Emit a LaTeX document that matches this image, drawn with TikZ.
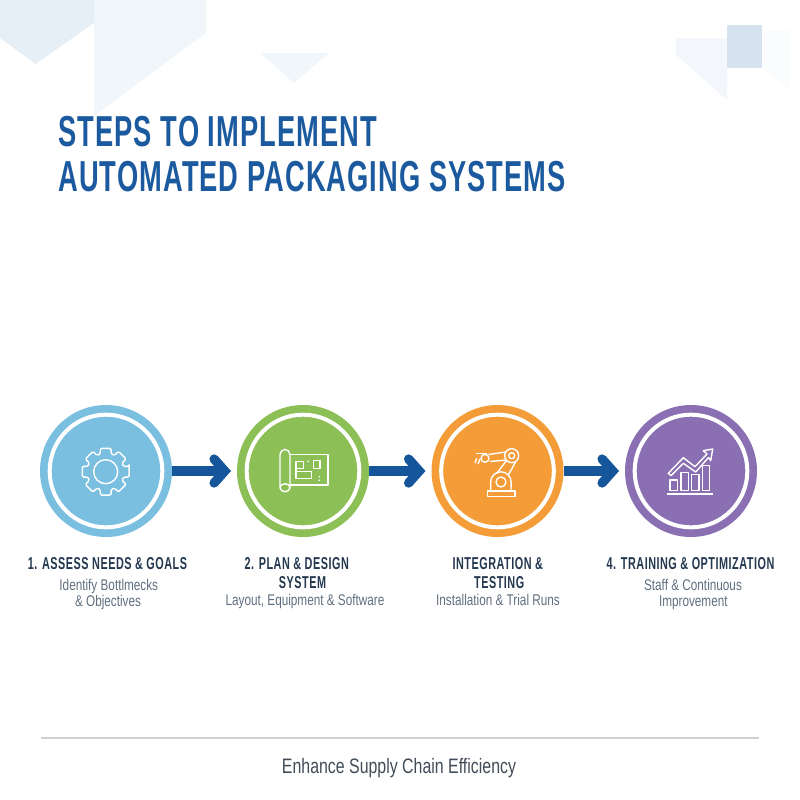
\documentclass[tikz,border=0pt]{standalone}
\usepackage{fontspec}
\usetikzlibrary{arrows.meta}
\newfontfamily\titlefont[FakeStretch=0.63,LetterSpace=2.4]{Liberation Sans}
\newfontfamily\headfont[FakeStretch=0.63,LetterSpace=3]{Liberation Sans}
\newfontfamily\bodyfont[FakeStretch=0.76]{Liberation Sans}
\definecolor{titleblue}{HTML}{1B5A9E}
\definecolor{arrowblue}{HTML}{15569B}
\definecolor{darknavy}{HTML}{24384F}
\definecolor{subgrey}{HTML}{5F6F80}
\definecolor{footgrey}{HTML}{414C58}
\definecolor{stepblue}{HTML}{7BBFE0}
\definecolor{stepgreen}{HTML}{8CBF56}
\definecolor{steporange}{HTML}{F39C38}
\definecolor{steppurple}{HTML}{8A70B2}
\tikzset{
  every picture/.style={line width=0.75pt},
  stepdisc/.style={circle,inner sep=0pt,outer sep=0pt,minimum size=99pt},
  whitering/.style={circle,draw=white,line width=3pt,inner sep=0pt,minimum size=84.5pt},
  link/.style={draw=arrowblue,line width=7.5pt,shorten >=4.5pt,
    -{Straight Barb[line cap=round,line join=miter,length=8pt,width=18pt,line width=7pt]}},
  iconline/.style={draw=white,line width=1.05pt,line join=round},
  titlelab/.style={anchor=base west,inner sep=0pt,text=titleblue,
    font=\titlefont\bfseries\fontsize{32.5}{36}\selectfont},
  headlab/.style={anchor=base,inner sep=0pt,text=darknavy,
    font=\headfont\bfseries\fontsize{12.9}{14}\selectfont},
  sublab/.style={anchor=base,inner sep=0pt,text=subgrey,
    font=\bodyfont\fontsize{11.6}{13}\selectfont},
}
\begin{document}
\begin{tikzpicture}[x=0.75pt,y=0.75pt,yscale=-1,xscale=1]
\useasboundingbox (0,0) rectangle (800,800);

% background shapes
\fill [color={rgb,255:red,230;green,238;blue,246}] (0,0) -- (94,0) -- (94,23) -- (35.5,64) -- (0,38) -- cycle ;
\fill [color={rgb,255:red,241;green,246;blue,250}] (94,0) -- (206,0) -- (206,33) -- (94,116) -- cycle ;
\fill [color={rgb,255:red,241;green,246;blue,250}] (260,53) -- (329,53) -- (294,83) -- cycle ;
\fill [color={rgb,255:red,243;green,247;blue,251}] (676,38) -- (727,38) -- (727,100) -- (676,55) -- cycle ;
\fill [color={rgb,255:red,250;green,252;blue,253}] (762,30) -- (790,30) -- (790,90) -- (762,68) -- cycle ;
\fill [color={rgb,255:red,214;green,226;blue,238}] (727,25) -- (762,25) -- (762,68) -- (727,68) -- cycle ;

% title
\node [titlelab] (title1) at (58,146) {STEPS TO IMPLEMENT};
\node [titlelab] (title2) at (58,191) {AUTOMATED PACKAGING SYSTEMS};

% steps
\node [stepdisc,fill=stepblue] (step1) at (106,471) {};
\node [stepdisc,fill=stepgreen] (step2) at (303,471) {};
\node [stepdisc,fill=steporange] (step3) at (497.5,471) {};
\node [stepdisc,fill=steppurple] (step4) at (691,471) {};
\node [whitering] (ring1) at (step1) {};
\node [whitering] (ring2) at (step2) {};
\node [whitering] (ring3) at (step3) {};
\node [whitering] (ring4) at (step4) {};

\draw [link] (step1) -- (step2) ;
\draw [link] (step2) -- (step3) ;
\draw [link] (step3) -- (step4) ;

% gear
\draw [iconline,rounded corners=1pt,shift={(105.7,471.7)}] (-13:24)
  \foreach \a in {0,45,...,315} { -- (\a-13:24) -- (\a+13:24) -- (\a+17:18.5) -- (\a+28:18.5) } -- cycle ;
\draw [iconline] (105.7,471.7) circle (12) ;

% blueprint
\draw [iconline] (290,454.7) -- (328,454.7) -- (328,485) -- (290,485) ;
\draw [iconline,rounded corners=4pt] (280,487.7) -- (280,449.3) -- (290,449.3) -- (290,487.7) ;
\draw [iconline] (285,487.7) ellipse (5 and 4) ;
\draw [iconline] (296,461.7) -- (303.3,461.7) -- (303.3,468.3) -- (296,468.3) -- cycle ;
\draw [iconline] (313.3,460.7) -- (320,460.7) -- (320,468.3) -- (313.3,468.3) -- cycle ;
\draw [iconline] (296,468.3) -- (296,478.3) -- (311.7,478.3) -- (311.7,471.7) -- (296,471.7) ;
\fill [white] (308.3,461.3) circle (1) ;
\fill [white] (319.3,476.7) circle (0.9) ;
\fill [white] (319.3,480.3) circle (0.9) ;

% robot arm
\draw [iconline] (487.3,491) -- (515,491) -- (515,496.7) -- (487.3,496.7) -- cycle ;
\draw [iconline] (490.7,491) -- (490.7,482) arc (180:360:10.2) -- (511,491) ;
\draw [iconline] (501,482) circle (5) ;
\draw [iconline] (496.7,473.5) -- (506.5,460.5) ;
\draw [iconline] (508.3,475) -- (515.7,461.7) ;
\draw [iconline] (511.7,455.7) circle (7) ;
\draw [iconline] (511.7,455.7) circle (3) ;
\draw [iconline] (505.5,452) -- (488.5,454.5) ;
\draw [iconline] (506.5,460) -- (490,461.5) ;
\draw [iconline] (485,458.3) circle (4) ;
\draw [iconline] (475.7,453.3) -- (487,453.3) ;
\draw [iconline] (476.7,458.3) -- (475,463) ;
\draw [iconline] (480,459) -- (478,464) ;

% chart
\draw [iconline] (666.7,494) -- (713.3,494) ;
\draw [iconline] (670,480) -- (677.3,480) -- (677.3,490.7) -- (670,490.7) -- cycle ;
\draw [iconline] (681,472.7) -- (688.3,472.7) -- (688.3,490.7) -- (681,490.7) -- cycle ;
\draw [iconline] (691.7,474.3) -- (699,474.3) -- (699,490.7) -- (691.7,490.7) -- cycle ;
\draw [iconline] (702.3,465.7) -- (709.3,465.7) -- (709.3,490.7) -- (702.3,490.7) -- cycle ;
\draw [iconline] (668.3,473.3) -- (683.3,457.7) -- (695,466.7) -- (707,454) -- (703.3,450.7) -- (712.7,449) -- (710.7,460.7) -- (708.5,457.5) -- (695.7,472) -- (683.3,463.3) -- (671,475.7) -- cycle ;

% labels
\node [headlab] (head1) at (107.5,569) {1. ASSESS NEEDS \& GOALS};
\node [sublab] (sub1a) at (108.8,590) {Identify Bottlmecks};
\node [sublab] (sub1b) at (108,606) {\& Objectives};
\node [headlab] (head2a) at (296.7,569) {2. PLAN \& DESIGN};
\node [headlab] (head2b) at (302.5,588) {SYSTEM};
\node [sublab] (sub2) at (305,605.5) {Layout, Equipment \& Software};
\node [headlab] (head3a) at (497.8,569) {INTEGRATION \&};
\node [headlab] (head3b) at (499.2,588) {TESTING};
\node [sublab] (sub3) at (498,605.5) {Installation \& Trial Runs};
\node [headlab] (head4) at (690.5,569) {4. TRAINING \& OPTIMIZATION};
\node [sublab] (sub4a) at (693,590) {Staff \& Continuous};
\node [sublab] (sub4b) at (693.3,606) {Improvement};

% footer
\coordinate (ruleL) at (41,738);
\coordinate (ruleR) at (759,738);
\draw [color={rgb,255:red,204;green,208;blue,212},line width=1pt] (ruleL) -- (ruleR) ;
\node [anchor=base,inner sep=0pt,text=footgrey,font=\bodyfont\fontsize{15.7}{18}\selectfont] (footer) at (399,773) {Enhance Supply Chain Efficiency};

\end{tikzpicture}
\end{document}
